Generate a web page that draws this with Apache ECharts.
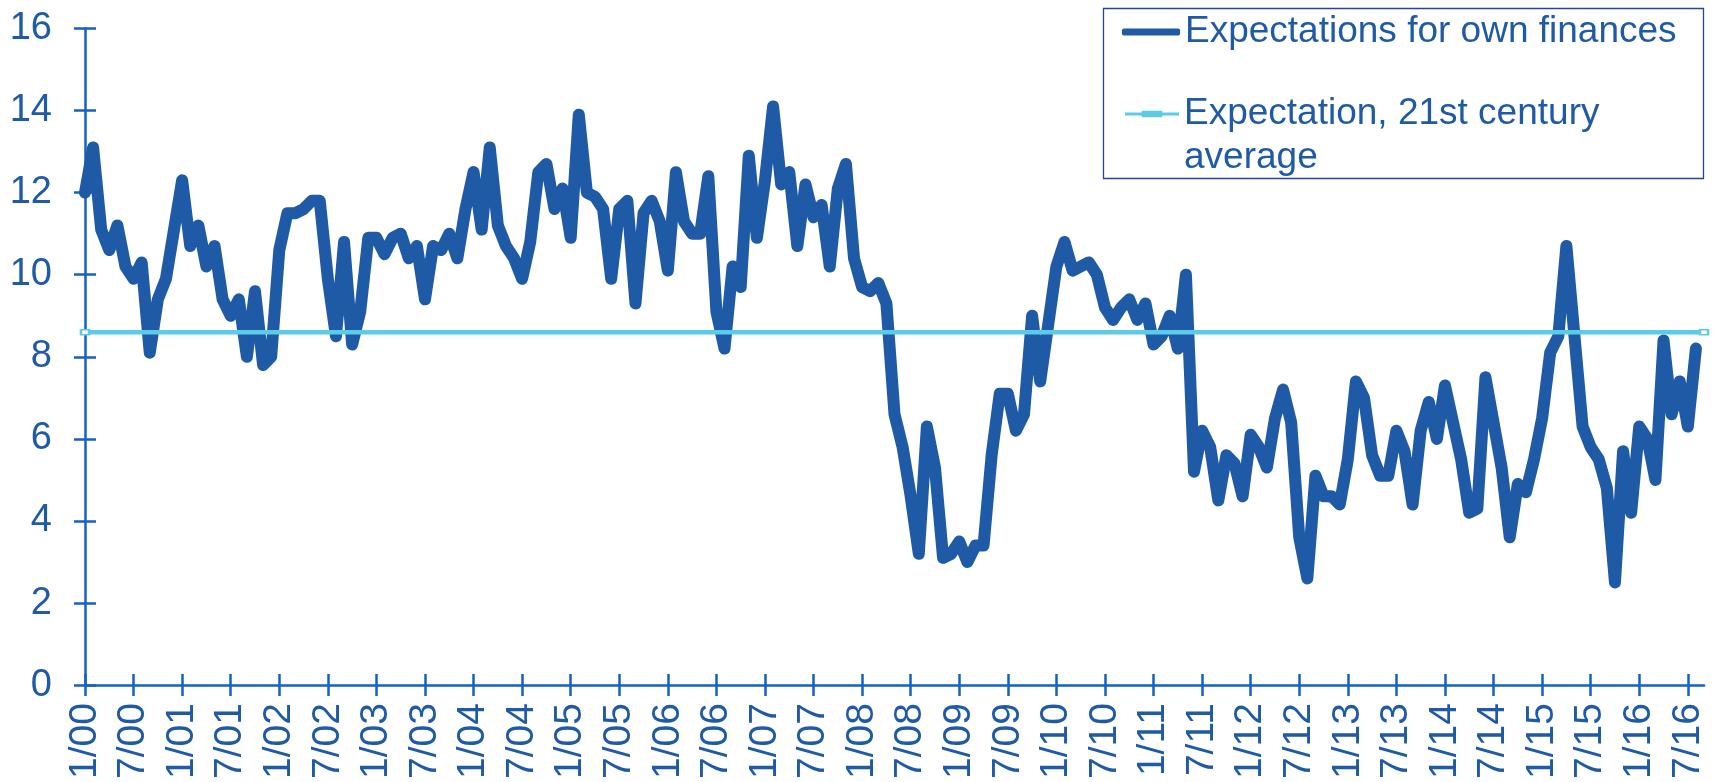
<!DOCTYPE html>
<html>
<head>
<meta charset="utf-8">
<script src="https://cdn.jsdelivr.net/npm/echarts@6/dist/echarts.min.js"></script>
<style>
html,body{margin:0;padding:0;background:#ffffff;}
#chart{width:1719px;height:782px;}
</style>
</head>
<body>
<div id="chart"></div>
<script>
// ---- data ----
const seriesNames = ['Expectations for own finances', 'Expectation, 21st century average'];
const startYear = 2000;
const monthCount = 201; // 1/00 .. 9/16 (axis extent)
const months = [];
for (let k = 0; k < monthCount; k++) {
  months.push(((k % 12) + 1) + '/' + String((startYear + Math.floor(k / 12)) % 100).padStart(2, '0'));
}
const ownFinances = [
  12.0,13.1,11.1,10.6,11.2,10.2,9.9,10.3,8.1,9.4,9.9,11.1,
  12.3,10.7,11.2,10.2,10.7,9.4,9.0,9.4,8.0,9.6,7.8,8.0,
  10.6,11.5,11.5,11.6,11.8,11.8,9.9,8.5,10.8,8.3,9.1,10.9,
  10.9,10.5,10.9,11.0,10.4,10.7,9.4,10.7,10.6,11.0,10.4,11.6,
  12.5,11.1,13.1,11.2,10.7,10.4,9.9,10.8,12.5,12.7,11.6,12.1,
  10.9,13.9,12.0,11.9,11.6,9.9,11.6,11.8,9.3,11.5,11.8,11.3,
  10.1,12.5,11.3,11.0,11.0,12.4,9.1,8.2,10.2,9.7,12.9,10.9,
  12.3,14.1,12.2,12.5,10.7,12.2,11.4,11.7,10.2,12.1,12.7,10.4,
  9.7,9.6,9.8,9.3,6.6,5.8,4.6,3.2,6.3,5.3,3.1,3.2,
  3.5,3.0,3.4,3.4,5.6,7.1,7.1,6.2,6.6,9.0,7.4,8.8,
  10.2,10.8,10.1,10.2,10.3,10.0,9.2,8.9,9.2,9.4,8.9,9.3,
  8.3,8.5,9.0,8.2,10.0,5.2,6.2,5.8,4.5,5.6,5.4,4.6,
  6.1,5.8,5.3,6.5,7.2,6.4,3.6,2.6,5.1,4.6,4.6,4.4,
  5.5,7.4,7.0,5.6,5.1,5.1,6.2,5.7,4.4,6.2,6.9,6.0,
  7.3,6.4,5.5,4.2,4.3,7.5,6.4,5.3,3.6,4.9,4.7,5.5,
  6.5,8.1,8.5,10.7,8.5,6.3,5.8,5.5,4.8,2.5,5.7,4.2,
  6.3,6.0,5.0,8.4,6.6,7.4,6.3,8.2
];
const centuryAverage = 8.6;
const yMin = 0, yMax = 16, yInterval = 2;

// ---- style ----
const darkBlue = '#1f5aa6';
const axisBlue = '#1462c4';
const cyan = '#5bcbe8';
const font = '"Liberation Sans", Arial, sans-serif';
const mainLineWidth = 12;

const chart = echarts.init(document.getElementById('chart'), null, {renderer: 'canvas'});

const xBase = {
  type: 'category', data: months, boundaryGap: false, gridIndex: 0, position: 'bottom'
};
const yBase = {
  type: 'value', min: yMin, max: yMax, interval: yInterval, gridIndex: 0, position: 'left', splitLine: {show: false}
};

chart.setOption({
  animation: false,
  textStyle: {fontFamily: font},
  grid: {left: 85, right: 15, top: 28.5, bottom: 93, containLabel: false},
  xAxis: [
    Object.assign({}, xBase, {
      axisLine: {show: true, lineStyle: {color: axisBlue, width: 2.5}},
      axisTick: {show: true, interval: 5, length: 11, lineStyle: {color: axisBlue, width: 2.5}},
      axisLabel: {interval: 5, rotate: 90, margin: 18, fontSize: 39, color: darkBlue, fontFamily: font}
    }),
    Object.assign({}, xBase, {
      axisLine: {show: false},
      axisTick: {show: true, inside: true, interval: 5, length: 11, lineStyle: {color: axisBlue, width: 2.5}},
      axisLabel: {show: false}
    })
  ],
  yAxis: [
    Object.assign({}, yBase, {
      axisLine: {show: true, lineStyle: {color: axisBlue, width: 2.5}},
      axisTick: {show: true, length: 11, lineStyle: {color: axisBlue, width: 2.5}},
      axisLabel: {margin: 33, fontSize: 38, color: darkBlue, fontFamily: font}
    }),
    Object.assign({}, yBase, {
      axisLine: {show: false},
      axisTick: {show: true, inside: true, length: 11, lineStyle: {color: axisBlue, width: 2.5}},
      axisLabel: {show: false}
    })
  ],
  legend: [
    {
      orient: 'vertical', left: 1122, top: 10, padding: 0,
      itemWidth: 58, itemHeight: 7,
      data: [{name: seriesNames[0], icon: 'roundRect'}],
      textStyle: {fontSize: 37, lineHeight: 44, color: darkBlue, fontFamily: font},
      selectedMode: false
    },
    {
      orient: 'vertical', left: 1125, top: 48, padding: 0,
      itemWidth: 54, itemHeight: 8,
      data: [{name: seriesNames[1], icon: 'path://M0,3L18,3L18,1L40,1L40,3L58,3L58,6L40,6L40,8L18,8L18,6L0,6Z', itemStyle: {color: cyan, borderWidth: 0}}],
      formatter: function () { return ' \nExpectation, 21st century\naverage'; },
      textStyle: {fontSize: 37, lineHeight: 44, color: darkBlue, fontFamily: font},
      selectedMode: false
    }
  ],
  graphic: [
    {
      type: 'rect', left: 1101, top: 6, silent: true,
      shape: {width: 600, height: 170},
      style: {fill: 'none', stroke: '#27468f', lineWidth: 1.3}
    }
  ],
  series: [
    {
      name: seriesNames[0], type: 'line', xAxisIndex: 0, yAxisIndex: 0,
      data: ownFinances, showSymbol: false, symbol: 'none',
      lineStyle: {color: darkBlue, width: mainLineWidth, cap: 'round', join: 'round'},
      itemStyle: {color: darkBlue}, z: 2
    },
    {
      name: seriesNames[1], type: 'line', xAxisIndex: 0, yAxisIndex: 0,
      data: [[0, centuryAverage], [monthCount - 1, centuryAverage]],
      symbol: 'emptyRect', symbolSize: [8, 5], showSymbol: true,
      lineStyle: {color: cyan, width: 4.5},
      itemStyle: {color: cyan, borderWidth: 1}, z: 3
    }
  ]
});
</script>
</body>
</html>
